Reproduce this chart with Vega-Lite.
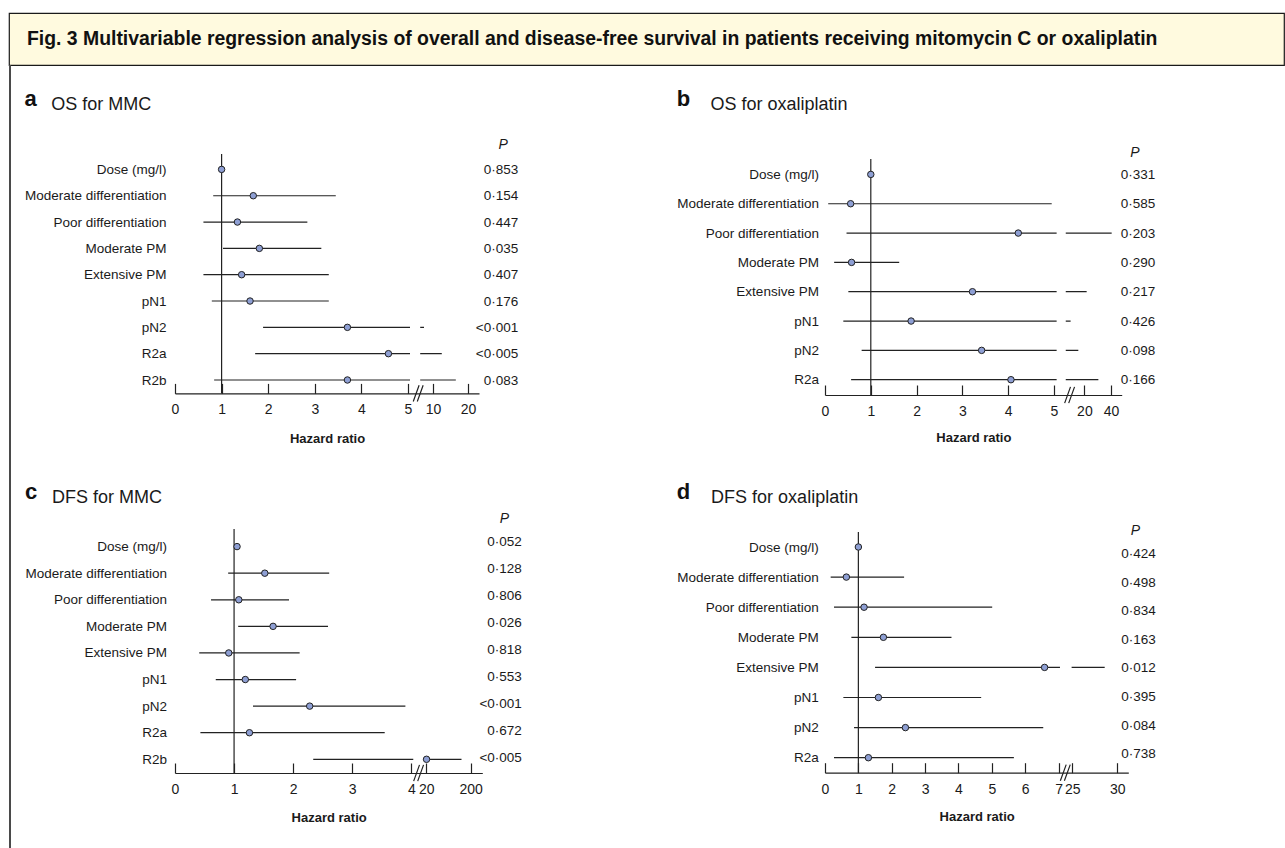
{
  "$schema": "https://vega.github.io/schema/vega-lite/v6.json",
  "background": "white",
  "padding": {"left": 8, "top": 12, "right": 0, "bottom": 0},
  "autosize": {"type": "pad"},
  "config": {
    "font": "Liberation Sans",
    "view": {"stroke": null},
    "axis": {"grid": false, "labelColor": "#1a1a1a", "titleColor": "#1a1a1a", "labelFont": "Liberation Sans", "titleFont": "Liberation Sans"},
    "axisLeft": {"ticks": false, "domain": false, "labelFontSize": 13.5, "labelLimit": 0, "titleAngle": 0, "titleAlign": "left", "titleBaseline": "alphabetic", "titleFontSize": 18, "titleFontWeight": "normal"},
    "axisRight": {"ticks": false, "domain": false, "labelFontSize": 13.5, "labelAlign": "right", "labelLimit": 0, "titleAngle": 0, "titleAlign": "left", "titleBaseline": "alphabetic", "titleFontSize": 14, "titleFontStyle": "italic", "titleFontWeight": "normal"},
    "axisBottom": {"tickSize": -10, "tickColor": "#222", "tickWidth": 1.2, "domainColor": "#222", "domainWidth": 1.2, "labelFontSize": 14, "labelPadding": 26.3, "labelBaseline": "middle", "labelOverlap": false, "labelFlush": false, "labelBound": false, "titleFontSize": 13, "titleFontWeight": "bold", "titleBaseline": "alphabetic"},
    "title": {"font": "Liberation Sans", "anchor": "start", "frame": "bounds", "fontSize": 22, "fontWeight": "bold", "color": "#111", "offset": 0, "dy": 20}
  },
  "datasets": {
    "a": [
      {"var": "Dose (mg/l)", "lo": 0.98, "hr": 1.0, "hi": 1.02, "p": "0·853"},
      {"var": "Moderate differentiation", "lo": 0.82, "hr": 1.68, "hi": 3.45, "p": "0·154"},
      {"var": "Poor differentiation", "lo": 0.61, "hr": 1.34, "hi": 2.84, "p": "0·447"},
      {"var": "Moderate PM", "lo": 1.03, "hr": 1.81, "hi": 3.14, "p": "0·035"},
      {"var": "Extensive PM", "lo": 0.61, "hr": 1.43, "hi": 3.3, "p": "0·407"},
      {"var": "pN1", "lo": 0.79, "hr": 1.61, "hi": 3.3, "p": "0·176"},
      {"var": "pN2", "lo": 1.89, "hr": 3.7, "hi": 8.2, "p": "<0·001"},
      {"var": "R2a", "lo": 1.72, "hr": 4.58, "hi": 12.5, "p": "<0·005"},
      {"var": "R2b", "lo": 0.84, "hr": 3.7, "hi": 16.5, "p": "0·083"}
    ],
    "b": [
      {"var": "Dose (mg/l)", "lo": 0.98, "hr": 1.0, "hi": 1.02, "p": "0·331"},
      {"var": "Moderate differentiation", "lo": 0.07, "hr": 0.56, "hi": 4.95, "p": "0·585"},
      {"var": "Poor differentiation", "lo": 0.47, "hr": 4.22, "hi": 40.5, "p": "0·203"},
      {"var": "Moderate PM", "lo": 0.2, "hr": 0.58, "hi": 1.62, "p": "0·290"},
      {"var": "Extensive PM", "lo": 0.51, "hr": 3.22, "hi": 21.7, "p": "0·217"},
      {"var": "pN1", "lo": 0.4, "hr": 1.88, "hi": 13.2, "p": "0·426"},
      {"var": "pN2", "lo": 0.8, "hr": 3.42, "hi": 17.0, "p": "0·098"},
      {"var": "R2a", "lo": 0.57, "hr": 4.06, "hi": 30.5, "p": "0·166"}
    ],
    "c": [
      {"var": "Dose (mg/l)", "lo": 1.03, "hr": 1.05, "hi": 1.07, "p": "0·052"},
      {"var": "Moderate differentiation", "lo": 0.9, "hr": 1.52, "hi": 2.61, "p": "0·128"},
      {"var": "Poor differentiation", "lo": 0.61, "hr": 1.08, "hi": 1.93, "p": "0·806"},
      {"var": "Moderate PM", "lo": 1.07, "hr": 1.66, "hi": 2.59, "p": "0·026"},
      {"var": "Extensive PM", "lo": 0.41, "hr": 0.91, "hi": 2.11, "p": "0·818"},
      {"var": "pN1", "lo": 0.69, "hr": 1.19, "hi": 2.05, "p": "0·553"},
      {"var": "pN2", "lo": 1.32, "hr": 2.28, "hi": 3.9, "p": "<0·001"},
      {"var": "R2a", "lo": 0.43, "hr": 1.26, "hi": 3.55, "p": "0·672"},
      {"var": "R2b", "lo": 2.34, "hr": 21, "hi": 163, "p": "<0·005"}
    ],
    "d": [
      {"var": "Dose (mg/l)", "lo": 0.98, "hr": 1.0, "hi": 1.02, "p": "0·424"},
      {"var": "Moderate differentiation", "lo": 0.17, "hr": 0.64, "hi": 2.37, "p": "0·498"},
      {"var": "Poor differentiation", "lo": 0.27, "hr": 1.17, "hi": 5.01, "p": "0·834"},
      {"var": "Moderate PM", "lo": 0.79, "hr": 1.75, "hi": 3.79, "p": "0·163"},
      {"var": "Extensive PM", "lo": 1.5, "hr": 6.58, "hi": 28.6, "p": "0·012"},
      {"var": "pN1", "lo": 0.55, "hr": 1.6, "hi": 4.68, "p": "0·395"},
      {"var": "pN2", "lo": 0.87, "hr": 2.41, "hi": 6.54, "p": "0·084"},
      {"var": "R2a", "lo": 0.27, "hr": 1.3, "hi": 5.66, "p": "0·738"}
    ]
  },
  "spacing": 0,
  "bounds": "flush",
  "vconcat": [
    {
      "width": 1275, "height": 52,
      "view": {"fill": "#FFFADF", "stroke": "#1a1a1a", "strokeWidth": 1.2},
      "data": {"values": [{"t": "Fig. 3 Multivariable regression analysis of overall and disease-free survival in patients receiving mitomycin C or oxaliplatin"}]},
      "mark": {"type": "text", "align": "left", "baseline": "middle", "fontSize": 19.4, "fontWeight": "bold", "dx": 18, "color": "#111"},
      "encoding": {"x": {"datum": 0, "type": "quantitative", "scale": {"domain": [0, 1]}, "axis": null}, "text": {"field": "t"}}
    },
    {
      "spacing": 0,
      "bounds": "flush",
      "hconcat": [
        {"width": 2, "height": 783, "view": {"fill": "#4a4a4a", "stroke": null}, "data": {"values": [{}]}, "mark": "text", "encoding": {"text": {"value": ""}}},
        {"width": 163.5, "height": 1, "data": {"values": [{}]}, "mark": "text", "encoding": {"text": {"value": ""}}},
        {
          "spacing": 0, "bounds": "flush",
          "vconcat": [
            {"width": 1, "height": 88.3, "data": {"values": [{}]}, "mark": "text", "encoding": {"text": {"value": ""}}},
            {
              "width": 304, "height": 239.4,
              "data": {"name": "a"},
              "title": {"text": "a"},
              "resolve": {"scale": {"y": "independent"}},
              "layer": [
                {"layer": [
                  {"mark": {"type": "rule", "color": "#222", "strokeWidth": 1.2},
                   "encoding": {
                     "x": {"field": "lo", "type": "quantitative", "scale": {"type": "linear", "domain": [0, 5, 10, 23.1], "range": [0, 233, 258, 304], "zero": false, "nice": false},
                           "axis": {"values": [0, 1, 2, 3, 4, 5, 10, 20], "tickCount": 30, "labelOverlap": false, "labelFlush": false, "title": "Hazard ratio", "titleY": 48.8, "zindex": 1}},
                     "x2": {"field": "hi"},
                     "y": {"field": "var", "type": "nominal", "sort": null, "scale": {"type": "point", "range": [15.4, 226], "padding": 0},
                           "axis": {"orient": "left", "title": "OS for MMC", "titleX": -124.3, "titleY": -44.6, "labelPadding": 9}}}},
                  {"data": {"values": [{"g": 1}]}, "mark": {"type": "rect", "color": "white"}, "encoding": {"x": {"datum": 5.4}, "x2": {"datum": 7.44}}},
                  {"data": {"values": [{"g": 1}]}, "mark": {"type": "rule", "color": "#222", "strokeWidth": 1.2}, "encoding": {"x": {"datum": 1}}},
                  {"mark": {"type": "circle", "fill": "#8E9FD4", "stroke": "#222", "strokeWidth": 1, "size": 42, "opacity": 1},
                   "encoding": {"x": {"field": "hr", "type": "quantitative"}, "y": {"field": "var", "type": "nominal", "sort": null}}},
                  {"data": {"values": [{"g": 1}]}, "mark": {"type": "point", "shape": "M-0.55,0.9L0.1,-0.9M-0.1,0.9L0.55,-0.9", "size": 324, "filled": false, "stroke": "#222", "strokeWidth": 1.2, "opacity": 1},
                   "encoding": {"x": {"datum": 7.04}, "y": {"value": "height"}}}
                ]},
                {"mark": {"type": "text"},
                 "encoding": {"y": {"field": "p", "type": "nominal", "sort": null, "scale": {"type": "point", "range": [15.4, 226], "padding": 0},
                                    "axis": {"orient": "right", "labelPadding": 38.7, "title": "P", "titleX": 19, "titleY": -5.3}},
                              "text": {"value": ""}}}
              ]
            },
            {"width": 1, "height": 135, "data": {"values": [{}]}, "mark": "text", "encoding": {"text": {"value": ""}}},
            {
              "width": 307.3, "height": 244,
              "data": {"name": "c"},
              "title": {"text": "c"},
              "resolve": {"scale": {"y": "independent"}},
              "layer": [
                {"layer": [
                  {"mark": {"type": "rule", "color": "#222", "strokeWidth": 1.2},
                   "encoding": {
                     "x": {"field": "lo", "type": "quantitative", "scale": {"type": "linear", "domain": [0, 4, 20, 200, 247], "range": [0, 236.3, 251.3, 295.6, 307.3], "zero": false, "nice": false},
                           "axis": {"values": [0, 1, 2, 3, 4, 20, 200], "tickCount": 30, "labelOverlap": false, "labelFlush": false, "title": "Hazard ratio", "titleY": 48.8, "zindex": 1}},
                     "x2": {"field": "hi"},
                     "y": {"field": "var", "type": "nominal", "sort": null, "scale": {"type": "point", "range": [17.6, 230.3], "padding": 0},
                           "axis": {"orient": "left", "title": "DFS for MMC", "titleX": -123.5, "titleY": -26.7, "labelPadding": 8.5}}}},
                  {"data": {"values": [{"g": 1}]}, "mark": {"type": "rect", "color": "white"}, "encoding": {"x": {"datum": 6.1}, "x2": {"datum": 16.8}}},
                  {"data": {"values": [{"g": 1}]}, "mark": {"type": "rule", "color": "#222", "strokeWidth": 1.2}, "encoding": {"x": {"datum": 1}}},
                  {"mark": {"type": "circle", "fill": "#8E9FD4", "stroke": "#222", "strokeWidth": 1, "size": 42, "opacity": 1},
                   "encoding": {"x": {"field": "hr", "type": "quantitative"}, "y": {"field": "var", "type": "nominal", "sort": null}}},
                  {"data": {"values": [{"g": 1}]}, "mark": {"type": "point", "shape": "M-0.55,0.9L0.1,-0.9M-0.1,0.9L0.55,-0.9", "size": 324, "filled": false, "stroke": "#222", "strokeWidth": 1.2, "opacity": 1},
                   "encoding": {"x": {"datum": 11.8}, "y": {"value": "height"}}}
                ]},
                {"mark": {"type": "text"},
                 "encoding": {"y": {"field": "p", "type": "nominal", "sort": null, "scale": {"type": "point", "range": [12.3, 228.3], "padding": 0},
                                    "axis": {"orient": "right", "labelPadding": 39, "title": "P", "titleX": 17, "titleY": -6.7}},
                              "text": {"value": ""}}}
              ]
            }
          ]
        },
        {"width": 649.5, "height": 1, "data": {"values": [{}]}, "mark": "text", "encoding": {"text": {"value": ""}}},
        {
          "spacing": 0, "bounds": "flush",
          "vconcat": [
            {"width": 1, "height": 93.3, "data": {"values": [{}]}, "mark": "text", "encoding": {"text": {"value": ""}}},
            {
              "width": 296.7, "height": 236,
              "data": {"name": "b"},
              "title": {"text": "b"},
              "resolve": {"scale": {"y": "independent"}},
              "layer": [
                {"layer": [
                  {"mark": {"type": "rule", "color": "#222", "strokeWidth": 1.2},
                   "encoding": {
                     "x": {"field": "lo", "type": "quantitative", "scale": {"type": "linear", "domain": [0, 5, 20, 40, 48], "range": [0, 229, 259.4, 286, 296.7], "zero": false, "nice": false},
                           "axis": {"values": [0, 1, 2, 3, 4, 5, 20, 40], "tickCount": 30, "labelOverlap": false, "labelFlush": false, "title": "Hazard ratio", "titleY": 46, "zindex": 1}},
                     "x2": {"field": "hi"},
                     "y": {"field": "var", "type": "nominal", "sort": null, "scale": {"type": "point", "range": [15.4, 220.7], "padding": 0},
                           "axis": {"orient": "left", "title": "OS for oxaliplatin", "titleX": -115, "titleY": -49.6, "labelPadding": 6.6}}}},
                  {"data": {"values": [{"g": 1}]}, "mark": {"type": "rect", "color": "white"}, "encoding": {"x": {"datum": 6.3}, "x2": {"datum": 10.8}}},
                  {"data": {"values": [{"g": 1}]}, "mark": {"type": "rule", "color": "#222", "strokeWidth": 1.2}, "encoding": {"x": {"datum": 1}}},
                  {"mark": {"type": "circle", "fill": "#8E9FD4", "stroke": "#222", "strokeWidth": 1, "size": 42, "opacity": 1},
                   "encoding": {"x": {"field": "hr", "type": "quantitative"}, "y": {"field": "var", "type": "nominal", "sort": null}}},
                  {"data": {"values": [{"g": 1}]}, "mark": {"type": "point", "shape": "M-0.55,0.9L0.1,-0.9M-0.1,0.9L0.55,-0.9", "size": 324, "filled": false, "stroke": "#222", "strokeWidth": 1.2, "opacity": 1},
                   "encoding": {"x": {"datum": 12.7}, "y": {"value": "height"}}}
                ]},
                {"mark": {"type": "text"},
                 "encoding": {"y": {"field": "p", "type": "nominal", "sort": null, "scale": {"type": "point", "range": [15.4, 220.7], "padding": 0},
                                    "axis": {"orient": "right", "labelPadding": 33, "title": "P", "titleX": 8, "titleY": -2.3}},
                              "text": {"value": ""}}}
              ]
            },
            {"width": 1, "height": 136.7, "data": {"values": [{}]}, "mark": "text", "encoding": {"text": {"value": ""}}},
            {
              "width": 303.3, "height": 240.7,
              "data": {"name": "d"},
              "title": {"text": "d"},
              "resolve": {"scale": {"y": "independent"}},
              "layer": [
                {"layer": [
                  {"mark": {"type": "rule", "color": "#222", "strokeWidth": 1.2},
                   "encoding": {
                     "x": {"field": "lo", "type": "quantitative", "scale": {"type": "linear", "domain": [0, 7, 25, 30, 31.2], "range": [0, 233.6, 247.3, 292.3, 303.3], "zero": false, "nice": false},
                           "axis": {"values": [0, 1, 2, 3, 4, 5, 6, 7, 25, 30], "tickCount": 30, "labelOverlap": false, "labelFlush": false, "title": "Hazard ratio", "titleY": 48, "zindex": 1}},
                     "x2": {"field": "hi"},
                     "y": {"field": "var", "type": "nominal", "sort": null, "scale": {"type": "point", "range": [15, 225.7], "padding": 0},
                           "axis": {"orient": "left", "title": "DFS for oxaliplatin", "titleX": -114.4, "titleY": -30, "labelPadding": 6.7}}}},
                  {"data": {"values": [{"g": 1}]}, "mark": {"type": "rect", "color": "white"}, "encoding": {"x": {"datum": 8.8}, "x2": {"datum": 24.1}}},
                  {"data": {"values": [{"g": 1}]}, "mark": {"type": "rule", "color": "#222", "strokeWidth": 1.2}, "encoding": {"x": {"datum": 1}}},
                  {"mark": {"type": "circle", "fill": "#8E9FD4", "stroke": "#222", "strokeWidth": 1, "size": 42, "opacity": 1},
                   "encoding": {"x": {"field": "hr", "type": "quantitative"}, "y": {"field": "var", "type": "nominal", "sort": null}}},
                  {"data": {"values": [{"g": 1}]}, "mark": {"type": "point", "shape": "M-0.55,0.9L0.1,-0.9M-0.1,0.9L0.55,-0.9", "size": 324, "filled": false, "stroke": "#222", "strokeWidth": 1.2, "opacity": 1},
                   "encoding": {"x": {"datum": 15.8}, "y": {"value": "height"}}}
                ]},
                {"mark": {"type": "text"},
                 "encoding": {"y": {"field": "p", "type": "nominal", "sort": null, "scale": {"type": "point", "range": [21.7, 221.7], "padding": 0},
                                    "axis": {"orient": "right", "labelPadding": 27, "title": "P", "titleX": 2, "titleY": 2}},
                              "text": {"value": ""}}}
              ]
            }
          ]
        }
      ]
    }
  ]
}
